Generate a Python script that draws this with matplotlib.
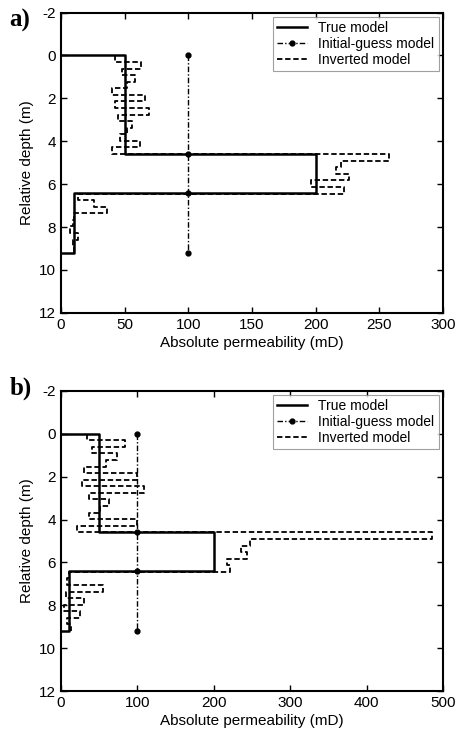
import numpy as np
import matplotlib
matplotlib.use('Agg')
import matplotlib.pyplot as plt

plt.rcParams['font.family'] = ['Liberation Sans', 'DejaVu Sans']
plt.rcParams['axes.unicode_minus'] = False

# layer boundaries of the true model (m)
true_depth = [0, 4.6, 6.4, 9.2]
true_perm = [50, 200, 10]

# initial guess
guess_perm = 100

# inverted model: 30 thin layers of equal thickness
n_layers = 30
inv_a = [42, 63, 48, 58, 52, 40, 66, 42, 69, 45, 56, 52, 46, 62, 40,
         258, 220, 216, 226, 196, 222,
         13, 26, 36, 10, 9, 7, 13, 9, 10]
inv_b = [34, 84, 41, 73, 59, 30, 99, 28, 109, 37, 63, 51, 36, 99, 21,
         486, 247, 236, 244, 217, 221,
         10, 8, 55, 7, 30, 4, 25, 8, 13]

xticks_a = [0, 50, 100, 150, 200, 250, 300]
xticks_b = [0, 100, 200, 300, 400, 500]
yticks = [-2, 0, 2, 4, 6, 8, 10, 12]


def step_line(values, edges):
    xs, ys = [], []
    for i, v in enumerate(values):
        xs += [v, v]
        ys += [edges[i], edges[i + 1]]
    return xs, ys


def draw_panel(ax, inv, xticks):
    # true model
    tx = [0]
    ty = [true_depth[0]]
    for i, v in enumerate(true_perm):
        tx += [v, v]
        ty += [true_depth[i], true_depth[i + 1]]
    tx.append(0)
    ty.append(true_depth[-1])
    ax.plot(tx, ty, color='k', lw=1.8, label='True model')

    # initial guess
    ax.plot([guess_perm] * len(true_depth), true_depth, color='k', lw=1.0,
            dashes=(4, 1.5, 1, 1.5), marker='o', ms=3.5, mfc='k',
            label='Initial-guess model')

    # inverted model
    edges = np.linspace(true_depth[0], true_depth[-1], n_layers + 1)
    ix, iy = step_line(inv, edges)
    ax.plot(ix, iy, color='k', lw=1.3, dashes=(3, 1.5), label='Inverted model')

    ax.set_xlim(xticks[0], xticks[-1])
    ax.set_ylim(12, -2)
    ax.set_xticks(xticks)
    ax.set_yticks(yticks)
    ax.tick_params(direction='in', top=True, right=True, labelsize=11,
                   length=4, width=1)
    for s in ax.spines.values():
        s.set_linewidth(1.5)
    ax.set_xlabel('Absolute permeability (mD)', fontsize=11, labelpad=3)
    ax.set_ylabel('Relative depth (m)', fontsize=11, labelpad=4)
    leg = ax.legend(loc='upper right', fontsize=10, frameon=True, fancybox=False,
                    handlelength=2.2, borderpad=0.3, labelspacing=0.15,
                    borderaxespad=0.3, handletextpad=0.8)
    leg.get_frame().set_edgecolor('#888888')
    leg.get_frame().set_linewidth(0.8)


fig = plt.figure(figsize=(4.59, 7.36), dpi=100)
ax_a = fig.add_axes([0.133, 0.575, 0.832, 0.408])
ax_b = fig.add_axes([0.133, 0.061, 0.832, 0.408])
draw_panel(ax_a, inv_a, xticks_a)
draw_panel(ax_b, inv_b, xticks_b)

fig.text(0.02, 0.988, 'a)', fontsize=18, fontweight='bold',
         family=['Liberation Serif', 'DejaVu Serif'], va='top')
fig.text(0.02, 0.488, 'b)', fontsize=18, fontweight='bold',
         family=['Liberation Serif', 'DejaVu Serif'], va='top')

fig.savefig('out.png', dpi=100)
